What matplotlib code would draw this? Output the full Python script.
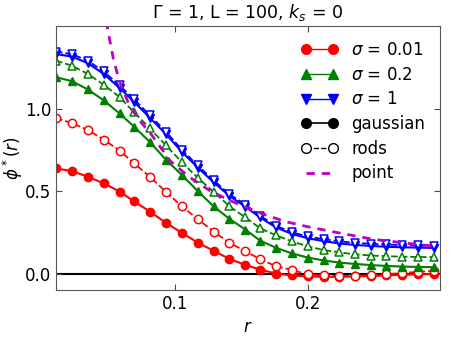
import numpy as np
import matplotlib
matplotlib.use("Agg")
import matplotlib.pyplot as plt
from matplotlib.lines import Line2D

# radial grid of the sampled points
r = [0.010, 0.022, 0.034, 0.046, 0.058, 0.069, 0.081, 0.093, 0.105, 0.117,
     0.129, 0.141, 0.153, 0.164, 0.176, 0.188, 0.200, 0.212, 0.224, 0.236,
     0.248, 0.259, 0.271, 0.283, 0.295]

sigmas = ["0.01", "0.2", "1"]
colors = ["r", (0, 0.5, 0), "b"]
markers = ["o", "^", "v"]

# gaussian profiles (filled markers, solid lines)
gauss_001 = [0.637, 0.621, 0.587, 0.547, 0.497, 0.437, 0.375, 0.307, 0.247, 0.187,
             0.138, 0.088, 0.052, 0.024, 0.000, -0.012, -0.018, -0.020, -0.020, -0.018,
             -0.015, -0.012, -0.008, -0.005, -0.003]
gauss_02 = [1.190, 1.166, 1.116, 1.050, 0.970, 0.890, 0.796, 0.690, 0.597, 0.500,
            0.407, 0.331, 0.266, 0.200, 0.156, 0.122, 0.097, 0.079, 0.066, 0.058,
            0.051, 0.046, 0.042, 0.040, 0.038]
gauss_1 = [1.330, 1.315, 1.275, 1.210, 1.125, 1.040, 0.943, 0.845, 0.738, 0.642,
           0.553, 0.470, 0.405, 0.340, 0.280, 0.240, 0.214, 0.196, 0.182, 0.173,
           0.167, 0.162, 0.159, 0.157, 0.155]

# rod profiles (open markers, dashed lines)
rods_001 = [0.942, 0.912, 0.870, 0.812, 0.745, 0.668, 0.586, 0.495, 0.407, 0.330,
            0.254, 0.186, 0.134, 0.088, 0.044, 0.022, -0.006, -0.012, -0.015, -0.014,
            -0.010, -0.005, 0.003, 0.010, 0.016]
rods_02 = [1.290, 1.260, 1.210, 1.145, 1.070, 0.976, 0.880, 0.777, 0.675, 0.580,
           0.495, 0.407, 0.340, 0.275, 0.232, 0.195, 0.165, 0.142, 0.128, 0.116,
           0.109, 0.105, 0.102, 0.100, 0.099]
rods_1 = [1.345, 1.330, 1.290, 1.225, 1.140, 1.056, 0.958, 0.860, 0.750, 0.655,
          0.565, 0.480, 0.418, 0.350, 0.290, 0.250, 0.225, 0.208, 0.195, 0.186,
          0.180, 0.176, 0.172, 0.170, 0.168]

# point-particle limit
r_point = [0.048, 0.050, 0.0536, 0.0586, 0.0649, 0.0712, 0.0774, 0.0825, 0.0962, 0.111,
           0.126, 0.141, 0.154, 0.167, 0.184, 0.202, 0.225, 0.249, 0.274, 0.298]
point = [1.53, 1.44, 1.29, 1.15, 1.03, 0.946, 0.886, 0.837, 0.683, 0.583,
         0.503, 0.443, 0.400, 0.358, 0.313, 0.280, 0.244, 0.208, 0.184, 0.164]

gauss = [gauss_001, gauss_02, gauss_1]
rods = [rods_001, rods_02, rods_1]

plt.rcParams['font.family'] = ['DejaVu Sans']
plt.rcParams['xtick.direction'] = 'in'
plt.rcParams['ytick.direction'] = 'in'

fig = plt.figure(figsize=(4.51, 3.38), dpi=100)
ax = fig.add_axes([0.124, 0.142, 0.852, 0.781])

ax.axhline(0, color='k', lw=1.5, zorder=1)
for i in range(3):
    ax.plot(r, gauss[i], '-', color=colors[i], marker=markers[i], ms=6, lw=1.5,
            mec=colors[i])
    ax.plot(r, rods[i], '--', color=colors[i], marker=markers[i], ms=6, lw=1.3,
            mfc='w', mec=colors[i], mew=1.1)
ax.plot(r_point, point, '--', color='m', lw=2, dashes=(3, 2.5))

ax.set_xlim(0.01, 0.3)
ax.set_ylim(-0.1, 1.5)
ax.set_xticks([0.1, 0.2])
ax.set_yticks([0.0, 0.5, 1.0])
ax.tick_params(top=True, right=True, labelsize=12, length=4, color='0.3')
for s in ax.spines.values():
    s.set_color('0.35')
ax.set_xlabel('$r$', fontsize=12)
ax.set_ylabel(r'$\phi^*(r)$', fontsize=12)
ax.yaxis.set_label_coords(-0.08, 0.5)
ax.set_title(r'$\Gamma$ = 1, L = 100, $k_s$ = 0', fontsize=12.5)

handles = [Line2D([], [], color=colors[i], marker=markers[i], ms=7, lw=1,
                  label=r'$\sigma$ = ' + sigmas[i]) for i in range(3)]
handles.append(Line2D([], [], color='k', marker='o', ms=7, lw=1.2, label='gaussian'))
handles.append(Line2D([], [], color='k', marker='o', ms=7, lw=1, ls='--', mfc='w',
                      label='rods'))
handles.append(Line2D([], [], color='m', lw=2, ls='--', dashes=(3, 2.5), label='point'))
ax.legend(handles=handles, loc='upper right', frameon=False, numpoints=2,
          fontsize=12, handlelength=2.2, labelspacing=0.4)

fig.savefig('out.png', dpi=100)
